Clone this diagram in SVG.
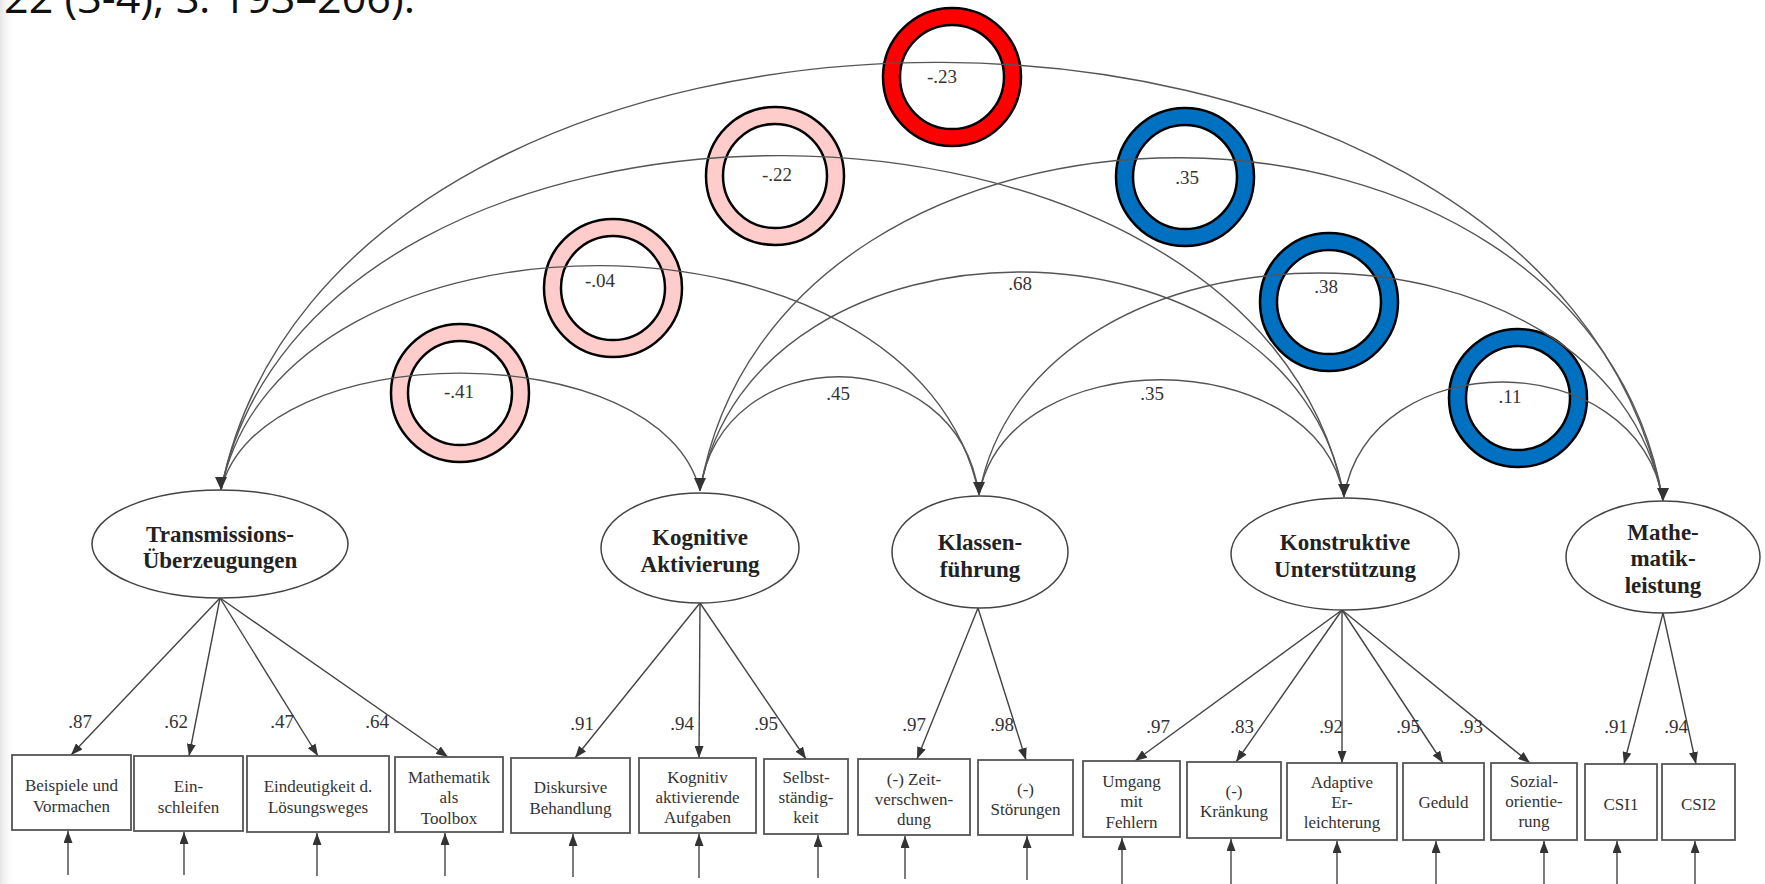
<svg xmlns="http://www.w3.org/2000/svg" width="1765" height="884" viewBox="0 0 1765 884">
<defs>
<style>
.arc{fill:none;stroke:#555;stroke-width:1.4}
.ld{fill:none;stroke:#444;stroke-width:1.4}
.ah{fill:#333}
.lat{fill:#fff;stroke:#444;stroke-width:1.5}
.box{fill:#fff;stroke:#555;stroke-width:1.8}
.bt{font-family:"Liberation Serif","Times New Roman",serif;font-size:17px;fill:#333;text-anchor:middle}
.lt{font-family:"Liberation Serif","Times New Roman",serif;font-size:23px;font-weight:bold;fill:#222;text-anchor:middle}
.num{font-family:"Liberation Serif","Times New Roman",serif;font-size:19px;fill:#333;text-anchor:middle}
.ring{fill-rule:evenodd;stroke:#000;stroke-width:2.5}
.red{fill:#ff0000}.pink{fill:#ffcccc}.blue{fill:#0070c0}
</style>
<marker id="arr" viewBox="0 0 12 9" refX="12" refY="4.5" markerWidth="12" markerHeight="9" markerUnits="userSpaceOnUse" orient="auto">
<path d="M0,0 L12,4.5 L0,9 Z" fill="#333"/>
</marker>
<linearGradient id="edge" x1="0" x2="1" y1="0" y2="0">
<stop offset="0" stop-color="#e6e6e6"/><stop offset="1" stop-color="#fff" stop-opacity="0"/>
</linearGradient>
</defs>
<rect width="1765" height="884" fill="#fff"/>
<rect x="0" y="0" width="16" height="884" fill="url(#edge)"/>
<text x="4" y="13" font-family="'Open Sans','Noto Sans',sans-serif" font-size="42" fill="#111" textLength="411" lengthAdjust="spacingAndGlyphs">22 (3-4), S. 193–206).</text>

<g id="highlights">
<path class="ring pink" d="M391,393a69,69 0 1,0 138,0a69,69 0 1,0 -138,0ZM408,393a52,52 0 1,0 104,0a52,52 0 1,0 -104,0Z"/>
<path class="ring pink" d="M544,288a69,69 0 1,0 138,0a69,69 0 1,0 -138,0ZM561,288a52,52 0 1,0 104,0a52,52 0 1,0 -104,0Z"/>
<path class="ring pink" d="M706,176a69,69 0 1,0 138,0a69,69 0 1,0 -138,0ZM723,176a52,52 0 1,0 104,0a52,52 0 1,0 -104,0Z"/>
<path class="ring red" d="M883,77a69,69 0 1,0 138,0a69,69 0 1,0 -138,0ZM900,77a52,52 0 1,0 104,0a52,52 0 1,0 -104,0Z"/>
<path class="ring blue" d="M1116,177a69,69 0 1,0 138,0a69,69 0 1,0 -138,0ZM1133,177a52,52 0 1,0 104,0a52,52 0 1,0 -104,0Z"/>
<path class="ring blue" d="M1260,302a69,69 0 1,0 138,0a69,69 0 1,0 -138,0ZM1277,302a52,52 0 1,0 104,0a52,52 0 1,0 -104,0Z"/>
<path class="ring blue" d="M1449,398a69,69 0 1,0 138,0a69,69 0 1,0 -138,0ZM1466,398a52,52 0 1,0 104,0a52,52 0 1,0 -104,0Z"/>
</g>

<g id="connectors">
<path class="arc" d="M221,490 C259,334 662,334 700,491"/>
<path class="arc" d="M221,490 C282,190 918,190 979,495"/>
<path class="arc" d="M221,490 C311,43 1254,43 1344,497"/>
<path class="arc" d="M221,490 C336,-82 1548,-82 1663,501"/>
<path class="arc" d="M700,491 C722,338 957,338 979,495"/>
<path class="arc" d="M700,491 C752,198 1292,198 1344,497"/>
<path class="arc" d="M700,491 C777,45 1586,45 1663,501"/>
<path class="arc" d="M979,495 C1008,341 1315,341 1344,497"/>
<path class="arc" d="M979,495 C1034,198 1608,198 1663,501"/>
<path class="arc" d="M1344,497 C1370,343 1637,343 1663,501"/>
<polygon class="ah" points="221,490 215,477 227,477"/>
<polygon class="ah" points="700,491 694,478 706,478"/>
<polygon class="ah" points="979,495 973,482 985,482"/>
<polygon class="ah" points="1344,497 1338,484 1350,484"/>
<polygon class="ah" points="1663,501 1657,488 1669,488"/>

<line class="ld" x1="220" y1="598" x2="71" y2="755" marker-end="url(#arr)"/>
<line class="ld" x1="220" y1="598" x2="189" y2="756" marker-end="url(#arr)"/>
<line class="ld" x1="220" y1="598" x2="318" y2="756" marker-end="url(#arr)"/>
<line class="ld" x1="220" y1="598" x2="448" y2="757" marker-end="url(#arr)"/>
<line class="ld" x1="700" y1="603" x2="575" y2="758" marker-end="url(#arr)"/>
<line class="ld" x1="700" y1="603" x2="699" y2="758" marker-end="url(#arr)"/>
<line class="ld" x1="700" y1="603" x2="806" y2="759" marker-end="url(#arr)"/>
<line class="ld" x1="978" y1="608" x2="917" y2="759" marker-end="url(#arr)"/>
<line class="ld" x1="978" y1="608" x2="1026" y2="760" marker-end="url(#arr)"/>
<line class="ld" x1="1342" y1="610" x2="1135" y2="761" marker-end="url(#arr)"/>
<line class="ld" x1="1342" y1="610" x2="1236" y2="762" marker-end="url(#arr)"/>
<line class="ld" x1="1342" y1="610" x2="1342" y2="763" marker-end="url(#arr)"/>
<line class="ld" x1="1342" y1="610" x2="1443" y2="763" marker-end="url(#arr)"/>
<line class="ld" x1="1342" y1="610" x2="1530" y2="763" marker-end="url(#arr)"/>
<line class="ld" x1="1663" y1="613" x2="1624" y2="764" marker-end="url(#arr)"/>
<line class="ld" x1="1663" y1="613" x2="1696" y2="764" marker-end="url(#arr)"/>

<line class="ld" x1="68" y1="875" x2="68" y2="831" marker-end="url(#arr)"/>
<line class="ld" x1="184" y1="875" x2="184" y2="832" marker-end="url(#arr)"/>
<line class="ld" x1="317" y1="876" x2="317" y2="833" marker-end="url(#arr)"/>
<line class="ld" x1="445" y1="876" x2="445" y2="833" marker-end="url(#arr)"/>
<line class="ld" x1="573" y1="877" x2="573" y2="834" marker-end="url(#arr)"/>
<line class="ld" x1="699" y1="878" x2="699" y2="834" marker-end="url(#arr)"/>
<line class="ld" x1="818" y1="878" x2="818" y2="835" marker-end="url(#arr)"/>
<line class="ld" x1="905" y1="879" x2="905" y2="836" marker-end="url(#arr)"/>
<line class="ld" x1="1027" y1="880" x2="1027" y2="836" marker-end="url(#arr)"/>
<line class="ld" x1="1122" y1="884" x2="1122" y2="838" marker-end="url(#arr)"/>
<line class="ld" x1="1231" y1="884" x2="1231" y2="839" marker-end="url(#arr)"/>
<line class="ld" x1="1337" y1="884" x2="1337" y2="841" marker-end="url(#arr)"/>
<line class="ld" x1="1436" y1="884" x2="1436" y2="841" marker-end="url(#arr)"/>
<line class="ld" x1="1544" y1="884" x2="1544" y2="841" marker-end="url(#arr)"/>
<line class="ld" x1="1617" y1="884" x2="1617" y2="841" marker-end="url(#arr)"/>
<line class="ld" x1="1695" y1="884" x2="1695" y2="841" marker-end="url(#arr)"/>
</g>

<g id="correlation-labels">
<text class="num" x="459" y="398">-.41</text>
<text class="num" x="600" y="287">-.04</text>
<text class="num" x="777" y="181">-.22</text>
<text class="num" x="942" y="83">-.23</text>
<text class="num" x="838" y="400">.45</text>
<text class="num" x="1020" y="290">.68</text>
<text class="num" x="1187" y="184">.35</text>
<text class="num" x="1152" y="400">.35</text>
<text class="num" x="1326" y="293">.38</text>
<text class="num" x="1510" y="403">.11</text>
</g>

<g id="loading-labels">
<text class="num" x="80" y="728">.87</text>
<text class="num" x="176" y="728">.62</text>
<text class="num" x="282" y="728">.47</text>
<text class="num" x="377" y="728">.64</text>
<text class="num" x="582" y="730">.91</text>
<text class="num" x="682" y="730">.94</text>
<text class="num" x="766" y="730">.95</text>
<text class="num" x="914" y="731">.97</text>
<text class="num" x="1002" y="731">.98</text>
<text class="num" x="1158" y="733">.97</text>
<text class="num" x="1242" y="733">.83</text>
<text class="num" x="1331" y="733">.92</text>
<text class="num" x="1408" y="733">.95</text>
<text class="num" x="1471" y="733">.93</text>
<text class="num" x="1616" y="733">.91</text>
<text class="num" x="1676" y="733">.94</text>
</g>

<g id="latent-transmission">
<ellipse class="lat" cx="220" cy="544" rx="128" ry="54"/>
<text class="lt" x="220" y="542">Transmissions-</text>
<text class="lt" x="220" y="568">Überzeugungen</text>
</g>
<g id="latent-kognitive">
<ellipse class="lat" cx="700" cy="548" rx="99" ry="55"/>
<text class="lt" x="700" y="545">Kognitive</text>
<text class="lt" x="700" y="572">Aktivierung</text>
</g>
<g id="latent-klassen">
<ellipse class="lat" cx="980" cy="552" rx="88" ry="56"/>
<text class="lt" x="980" y="550">Klassen-</text>
<text class="lt" x="980" y="577">führung</text>
</g>
<g id="latent-konstruktive">
<ellipse class="lat" cx="1345" cy="554" rx="114" ry="56"/>
<text class="lt" x="1345" y="550">Konstruktive</text>
<text class="lt" x="1345" y="577">Unterstützung</text>
</g>
<g id="latent-mathe">
<ellipse class="lat" cx="1663" cy="557" rx="97" ry="56"/>
<text class="lt" x="1663" y="540">Mathe-</text>
<text class="lt" x="1663" y="566">matik-</text>
<text class="lt" x="1663" y="593">leistung</text>
</g>

<g id="box-beispiele"><rect class="box" x="12" y="755" width="119" height="75"/>
<text class="bt" x="71.5" y="791">Beispiele und</text><text class="bt" x="71.5" y="812">Vormachen</text></g>
<g id="box-einschleifen"><rect class="box" x="134" y="756" width="109" height="75"/>
<text class="bt" x="188.5" y="792">Ein-</text><text class="bt" x="188.5" y="813">schleifen</text></g>
<g id="box-eindeutigkeit"><rect class="box" x="247" y="756" width="142" height="76"/>
<text class="bt" x="318" y="792">Eindeutigkeit d.</text><text class="bt" x="318" y="813">Lösungsweges</text></g>
<g id="box-toolbox"><rect class="box" x="395" y="757" width="108" height="75"/>
<text class="bt" x="449" y="783">Mathematik</text><text class="bt" x="449" y="803">als</text><text class="bt" x="449" y="824">Toolbox</text></g>
<g id="box-diskursive"><rect class="box" x="511" y="758" width="119" height="75"/>
<text class="bt" x="570.5" y="793">Diskursive</text><text class="bt" x="570.5" y="814">Behandlung</text></g>
<g id="box-aufgaben"><rect class="box" x="639" y="758" width="117" height="75"/>
<text class="bt" x="697.5" y="783">Kognitiv</text><text class="bt" x="697.5" y="803">aktivierende</text><text class="bt" x="697.5" y="823">Aufgaben</text></g>
<g id="box-selbst"><rect class="box" x="764" y="759" width="84" height="75"/>
<text class="bt" x="806" y="783">Selbst-</text><text class="bt" x="806" y="803">ständig-</text><text class="bt" x="806" y="823">keit</text></g>
<g id="box-zeit"><rect class="box" x="858" y="759" width="112" height="76"/>
<text class="bt" x="914" y="785">(-) Zeit-</text><text class="bt" x="914" y="805">verschwen-</text><text class="bt" x="914" y="825">dung</text></g>
<g id="box-stoerungen"><rect class="box" x="978" y="760" width="95" height="75"/>
<text class="bt" x="1025.5" y="795">(-)</text><text class="bt" x="1025.5" y="815">Störungen</text></g>
<g id="box-umgang"><rect class="box" x="1083" y="761" width="97" height="76"/>
<text class="bt" x="1131.5" y="787">Umgang</text><text class="bt" x="1131.5" y="807">mit</text><text class="bt" x="1131.5" y="828">Fehlern</text></g>
<g id="box-kraenkung"><rect class="box" x="1187" y="762" width="94" height="76"/>
<text class="bt" x="1234" y="797">(-)</text><text class="bt" x="1234" y="817">Kränkung</text></g>
<g id="box-adaptive"><rect class="box" x="1287" y="763" width="110" height="77"/>
<text class="bt" x="1342" y="788">Adaptive</text><text class="bt" x="1342" y="808">Er-</text><text class="bt" x="1342" y="828">leichterung</text></g>
<g id="box-geduld"><rect class="box" x="1403" y="763" width="81" height="77"/>
<text class="bt" x="1443.5" y="808">Geduld</text></g>
<g id="box-sozial"><rect class="box" x="1491" y="763" width="86" height="77"/>
<text class="bt" x="1534" y="787">Sozial-</text><text class="bt" x="1534" y="807">orientie-</text><text class="bt" x="1534" y="827">rung</text></g>
<g id="box-csi1"><rect class="box" x="1585" y="764" width="72" height="76"/>
<text class="bt" x="1621" y="810">CSI1</text></g>
<g id="box-csi2"><rect class="box" x="1662" y="764" width="73" height="76"/>
<text class="bt" x="1698.5" y="810">CSI2</text></g>
</svg>
